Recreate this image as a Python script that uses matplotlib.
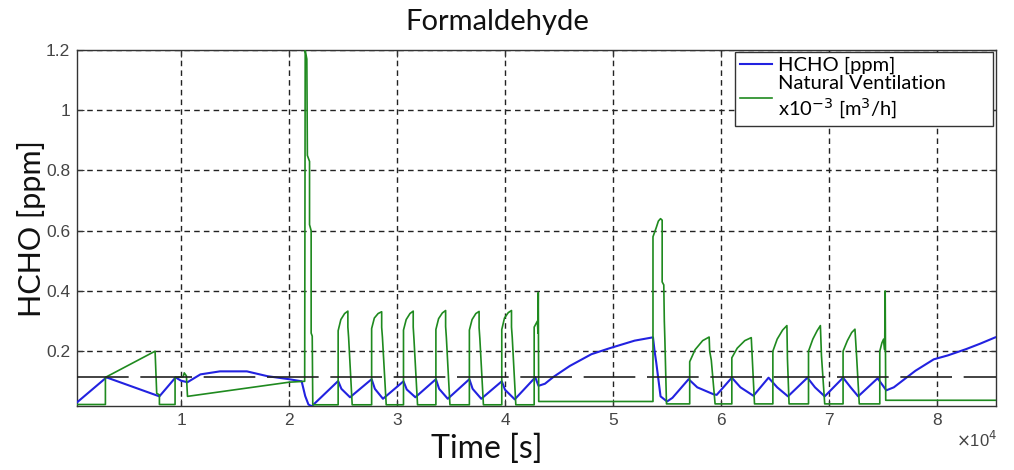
import numpy as np
import matplotlib
matplotlib.use("Agg")
import matplotlib.pyplot as plt

# ---------------- data (time in units of 1e4 s) ----------------
hcho_t = [0.037, 0.310, 0.800, 0.950, 1.000, 1.060, 1.180, 1.360, 1.610, 1.800, 2.000, 2.117,
          2.150, 2.180, 2.210,
          2.455, 2.485, 2.565, 2.765, 2.795, 2.870, 3.060, 3.090, 3.170, 3.360, 3.390, 3.470,
          3.670, 3.700, 3.780, 3.970, 4.000, 4.090, 4.280, 4.310,
          4.370, 4.450, 4.600, 4.800, 4.970, 5.200, 5.370, 5.385, 5.400, 5.440, 5.500, 5.550,
          5.700, 5.780, 5.930, 5.960, 6.100, 6.180, 6.300, 6.440, 6.520, 6.620, 6.800, 6.870,
          6.960, 7.130, 7.200, 7.270, 7.450, 7.500, 7.530, 7.600, 7.800, 7.970, 8.100, 8.270,
          8.400, 8.540, 8.560]
hcho_v = [0.030, 0.113, 0.050, 0.113, 0.102, 0.097, 0.123, 0.133, 0.133, 0.117, 0.107, 0.100,
          0.051, 0.023, 0.017,
          0.101, 0.075, 0.047, 0.107, 0.075, 0.042, 0.100, 0.073, 0.047, 0.107, 0.075, 0.042,
          0.107, 0.075, 0.042, 0.100, 0.072, 0.040, 0.113, 0.085,
          0.092, 0.115, 0.151, 0.190, 0.210, 0.235, 0.246, 0.200, 0.163, 0.050, 0.033, 0.045,
          0.107, 0.080, 0.057, 0.055, 0.112, 0.080, 0.052, 0.112, 0.080, 0.050, 0.112, 0.080,
          0.050, 0.112, 0.080, 0.050, 0.110, 0.085, 0.070, 0.080, 0.135, 0.173, 0.186, 0.207,
          0.225, 0.246, 0.248]

vent_t = [0.037, 0.300, 0.300, 0.760, 0.775, 0.800, 0.800, 0.945, 0.945, 1.020, 1.030, 1.050,
          1.060, 2.000, 2.130, 2.145, 2.150, 2.165, 2.170, 2.190, 2.190, 2.205, 2.205, 2.215, 2.220,
          2.455, 2.455, 2.480, 2.515, 2.545, 2.545, 2.552, 2.585,
          2.765, 2.765, 2.790, 2.825, 2.858, 2.858, 2.865, 2.900,
          3.060, 3.060, 3.085, 3.120, 3.150, 3.150, 3.157, 3.190,
          3.360, 3.360, 3.385, 3.420, 3.450, 3.450, 3.457, 3.490,
          3.670, 3.670, 3.695, 3.730, 3.760, 3.760, 3.767, 3.800,
          3.970, 3.970, 3.995, 4.030, 4.060, 4.060, 4.067, 4.100,
          4.270, 4.270, 4.300, 4.305, 4.308, 4.312,
          5.370, 5.370, 5.400, 5.420, 5.440, 5.455, 5.455, 5.470, 5.475, 5.480, 5.495,
          5.710, 5.710, 5.760, 5.830, 5.890, 5.895, 5.910, 5.945,
          6.100, 6.100, 6.150, 6.220, 6.280, 6.290, 6.310,
          6.480, 6.480, 6.520, 6.570, 6.610, 6.615, 6.630,
          6.810, 6.810, 6.850, 6.890, 6.920, 6.930, 6.960,
          7.130, 7.130, 7.170, 7.210, 7.240, 7.255, 7.280,
          7.470, 7.470, 7.490, 7.505, 7.515, 7.520, 7.525, 8.560]
vent_v = [0.023, 0.023, 0.113, 0.200, 0.060, 0.055, 0.023, 0.023, 0.113, 0.115, 0.128, 0.118,
          0.050, 0.097, 0.100, 0.100, 1.198, 1.170, 0.850, 0.830, 0.620, 0.600, 0.260, 0.250, 0.022,
          0.022, 0.268, 0.305, 0.325, 0.333, 0.280, 0.245, 0.022,
          0.022, 0.275, 0.310, 0.325, 0.331, 0.279, 0.246, 0.022,
          0.022, 0.270, 0.305, 0.325, 0.333, 0.280, 0.240, 0.022,
          0.022, 0.272, 0.308, 0.327, 0.335, 0.282, 0.245, 0.022,
          0.022, 0.270, 0.305, 0.325, 0.332, 0.278, 0.242, 0.022,
          0.022, 0.272, 0.310, 0.328, 0.335, 0.280, 0.245, 0.022,
          0.022, 0.280, 0.300, 0.260, 0.395, 0.033,
          0.033, 0.580, 0.610, 0.632, 0.640, 0.635, 0.430, 0.420, 0.300, 0.240, 0.025,
          0.025, 0.165, 0.205, 0.235, 0.247, 0.200, 0.170, 0.025,
          0.025, 0.178, 0.210, 0.235, 0.245, 0.170, 0.025,
          0.025, 0.200, 0.240, 0.270, 0.285, 0.175, 0.025,
          0.025, 0.200, 0.240, 0.268, 0.285, 0.185, 0.025,
          0.025, 0.200, 0.235, 0.262, 0.273, 0.185, 0.025,
          0.025, 0.200, 0.228, 0.240, 0.205, 0.400, 0.037, 0.037]

threshold = 0.115
x_ticks = [1, 2, 3, 4, 5, 6, 7, 8]
y_ticks = [0.2, 0.4, 0.6, 0.8, 1.0, 1.2]
y_tick_labels = ["0.2", "0.4", "0.6", "0.8", "1", "1.2"]

# ---------------- figure ----------------
W, H = 1014, 470
fig = plt.figure(figsize=(W / 100, H / 100), dpi=100)
ax_l, ax_r, ax_t, ax_b = 77, 996, 50, 406
ax = fig.add_axes([ax_l / W, 1 - ax_b / H, (ax_r - ax_l) / W, (ax_b - ax_t) / H])

scale = 1e4
blue = "#2222e0"
green = "#1f8a1f"

ax.plot(np.array(hcho_t) * scale, hcho_v, color=blue, lw=1.5, label="HCHO [ppm]", zorder=3)
ax.plot(np.array(vent_t) * scale, vent_v, color=green, lw=1.2,
        label="Natural Ventilation\nx10$^{-3}$ [m$^3$/h]", zorder=3)
ax.axhline(threshold, color="#222222", lw=1.2, dashes=(31, 7), zorder=4)

ax.set_xlim(0.037 * scale, 8.546 * scale)
ax.set_ylim(0.018, 1.2)
ax.set_xticks([v * scale for v in x_ticks])
ax.set_xticklabels([str(v) for v in x_ticks])
ax.set_yticks(y_ticks)
ax.set_yticklabels(y_tick_labels)

ax.grid(True, color="#222222", linestyle=(0, (4, 3)), linewidth=1.0)
ax.set_axisbelow(True)
ax.tick_params(direction="in", length=5, top=True, right=True, labelsize=12.5,
               labelcolor="#444444", color="#333333", pad=5)
for lab in ax.get_xticklabels() + ax.get_yticklabels():
    lab.set_family("Liberation Sans")
for s in ax.spines.values():
    s.set_color("#333333")
    s.set_linewidth(1.0)

fig.text(497 / W, 1 - 22 / H, "Formaldehyde", ha="center", va="center",
         fontsize=21, family="Lato", color="#111111")
fig.text(487 / W, 1 - 449 / H, "Time [s]", ha="center", va="center",
         fontsize=23, family="Lato", color="#111111")
fig.text(32 / W, 1 - 229 / H, "HCHO [ppm]", ha="center", va="center", rotation=90,
         fontsize=22, family="Lato", color="#111111")
fig.text(977 / W, 1 - 440 / H, r"$\times$10$^{4}$", ha="center", va="center",
         fontsize=12, family="Liberation Sans", color="#444444")

# legend box spanning x 735..993 px, top at 52 px
lx0 = (735 - ax_l) / (ax_r - ax_l)
lx1 = (993 - ax_l) / (ax_r - ax_l)
ly1 = (ax_b - 52) / (ax_b - ax_t)
leg = ax.legend(loc="upper left", bbox_to_anchor=(lx0, ly1, lx1 - lx0, 0.0), mode="expand",
                borderaxespad=0.0,
                prop={"family": "Lato", "size": 14.5}, frameon=True, fancybox=False,
                framealpha=1.0,
                handlelength=1.6, handletextpad=0.3, labelspacing=0.05, borderpad=0.25)
leg.get_frame().set_edgecolor("#333333")
leg.get_frame().set_linewidth(1.0)

fig.savefig("out.png", dpi=100)
